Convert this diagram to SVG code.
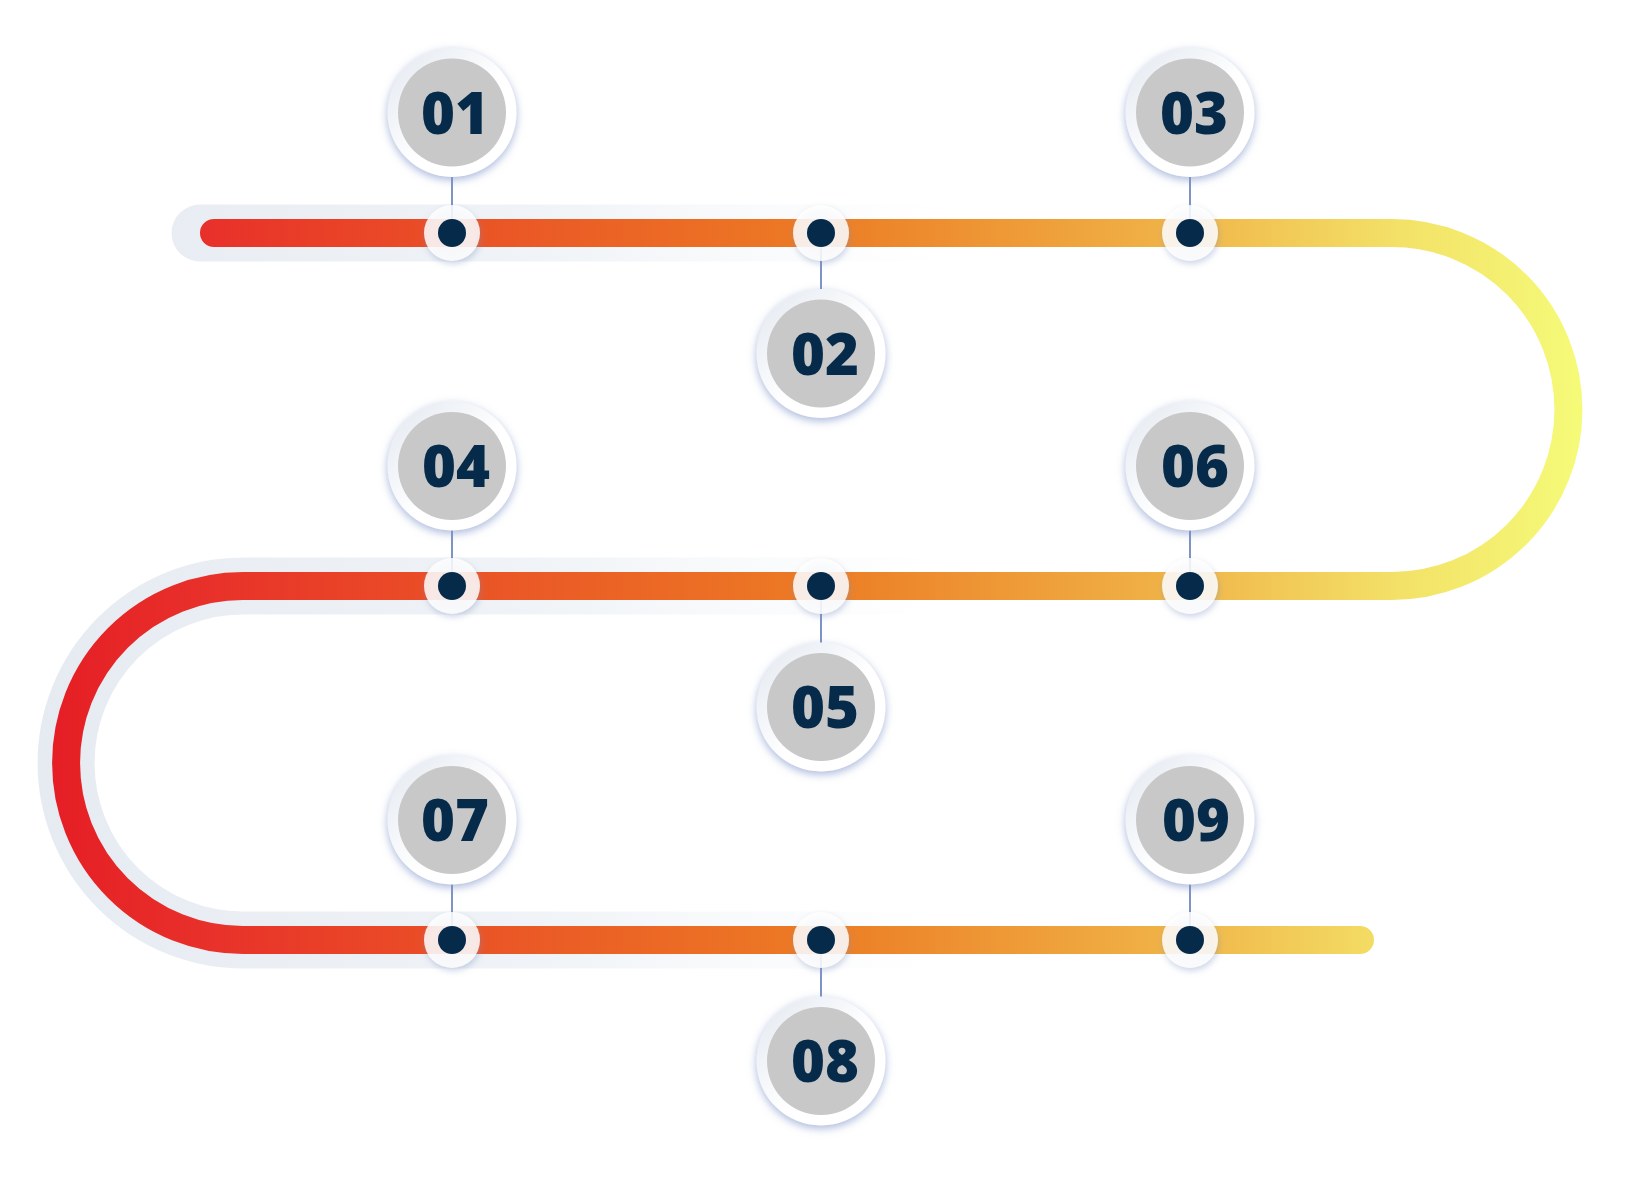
<svg xmlns="http://www.w3.org/2000/svg" width="1629" height="1188" viewBox="0 0 1629 1188">
<defs>
<linearGradient id="trackGrad" gradientUnits="userSpaceOnUse" x1="50" y1="0" x2="1583" y2="0">
<stop offset="0" stop-color="#e51e25"/>
<stop offset="0.1" stop-color="#e8302a"/>
<stop offset="0.26" stop-color="#ea5026"/>
<stop offset="0.5" stop-color="#ec7b24"/>
<stop offset="0.74" stop-color="#f0b548"/>
<stop offset="0.88" stop-color="#f3e168"/>
<stop offset="1" stop-color="#f5fb78"/>
</linearGradient>
<linearGradient id="shadowGrad" gradientUnits="userSpaceOnUse" x1="40" y1="0" x2="950" y2="0">
<stop offset="0" stop-color="#e6ebf2" stop-opacity="1"/>
<stop offset="0.55" stop-color="#eef2f6" stop-opacity="0.9"/>
<stop offset="1" stop-color="#f4f6f9" stop-opacity="0"/>
</linearGradient>
<linearGradient id="ringGrad" x1="0" y1="0" x2="1" y2="1">
<stop offset="0" stop-color="#e2e8f0"/>
<stop offset="0.55" stop-color="#ffffff"/>
<stop offset="1" stop-color="#ffffff"/>
</linearGradient>
<filter id="nodeShadow" x="-30%" y="-30%" width="160%" height="170%">
<feDropShadow dx="0" dy="3" stdDeviation="4" flood-color="#7d93c9" flood-opacity="0.65"/>
</filter>
<filter id="dotShadow" x="-40%" y="-40%" width="180%" height="190%">
<feDropShadow dx="1" dy="3" stdDeviation="3" flood-color="#7d8fbf" flood-opacity="0.45"/>
</filter>
</defs>
<style>
.ring{fill:url(#ringGrad);filter:url(#nodeShadow)}
.core{fill:#c8c8c8}
.num{font-family:"Open Sans","DejaVu Sans",sans-serif;font-weight:800;font-size:58px;fill:#062b4a;text-anchor:middle}
.dotRing{fill:#ffffff;fill-opacity:0.84;filter:url(#dotShadow)}
.dotCore{fill:#062b4a}
.conn{stroke:#7f93c4;stroke-width:2;fill:none}
</style>
<g id="track">
<path d="M 200 233 L 1392 233 A 176.5 176.5 0 0 1 1392 586 L 243 586 A 177 177 0 0 0 243 940 L 1360 940" fill="none" stroke="url(#shadowGrad)" stroke-width="57" stroke-linecap="round"/>
<path d="M 214 233 L 1392 233 A 176.5 176.5 0 0 1 1392 586 L 243 586 A 177 177 0 0 0 243 940 L 1360 940" fill="none" stroke="url(#trackGrad)" stroke-width="28" stroke-linecap="round"/>
</g>
<g id="connectors">
<line class="conn" x1="452" y1="177" x2="452" y2="233"/>
<line class="conn" x1="821" y1="233" x2="821" y2="289"/>
<line class="conn" x1="1190" y1="177" x2="1190" y2="233"/>
<line class="conn" x1="452" y1="530" x2="452" y2="586"/>
<line class="conn" x1="821" y1="586" x2="821" y2="643"/>
<line class="conn" x1="1190" y1="530" x2="1190" y2="586"/>
<line class="conn" x1="452" y1="884" x2="452" y2="940"/>
<line class="conn" x1="821" y1="940" x2="821" y2="997"/>
<line class="conn" x1="1190" y1="884" x2="1190" y2="940"/>
</g>
<g id="dots">
<g id="dot1"><circle class="dotRing" cx="452" cy="233" r="28"/><circle class="dotCore" cx="452" cy="233" r="14"/></g>
<g id="dot2"><circle class="dotRing" cx="821" cy="233" r="28"/><circle class="dotCore" cx="821" cy="233" r="14"/></g>
<g id="dot3"><circle class="dotRing" cx="1190" cy="233" r="28"/><circle class="dotCore" cx="1190" cy="233" r="14"/></g>
<g id="dot4"><circle class="dotRing" cx="452" cy="586" r="28"/><circle class="dotCore" cx="452" cy="586" r="14"/></g>
<g id="dot5"><circle class="dotRing" cx="821" cy="586" r="28"/><circle class="dotCore" cx="821" cy="586" r="14"/></g>
<g id="dot6"><circle class="dotRing" cx="1190" cy="586" r="28"/><circle class="dotCore" cx="1190" cy="586" r="14"/></g>
<g id="dot7"><circle class="dotRing" cx="452" cy="940" r="28"/><circle class="dotCore" cx="452" cy="940" r="14"/></g>
<g id="dot8"><circle class="dotRing" cx="821" cy="940" r="28"/><circle class="dotCore" cx="821" cy="940" r="14"/></g>
<g id="dot9"><circle class="dotRing" cx="1190" cy="940" r="28"/><circle class="dotCore" cx="1190" cy="940" r="14"/></g>
</g>
<g id="node01"><circle class="ring" cx="452" cy="112.5" r="64.5"/><circle class="core" cx="452" cy="112.5" r="54"/><text class="num" x="455" y="133.5">01</text></g>
<g id="node02"><circle class="ring" cx="821" cy="353.5" r="64.5"/><circle class="core" cx="821" cy="353.5" r="54"/><text class="num" x="825" y="374.5">02</text></g>
<g id="node03"><circle class="ring" cx="1190" cy="112.5" r="64.5"/><circle class="core" cx="1190" cy="112.5" r="54"/><text class="num" x="1194" y="133.5">03</text></g>
<g id="node04"><circle class="ring" cx="452" cy="466" r="64.5"/><circle class="core" cx="452" cy="466" r="54"/><text class="num" x="456" y="487">04</text></g>
<g id="node05"><circle class="ring" cx="821" cy="707" r="64.5"/><circle class="core" cx="821" cy="707" r="54"/><text class="num" x="825" y="728">05</text></g>
<g id="node06"><circle class="ring" cx="1190" cy="466" r="64.5"/><circle class="core" cx="1190" cy="466" r="54"/><text class="num" x="1195" y="487">06</text></g>
<g id="node07"><circle class="ring" cx="452" cy="820" r="64.5"/><circle class="core" cx="452" cy="820" r="54"/><text class="num" x="455" y="841">07</text></g>
<g id="node08"><circle class="ring" cx="821" cy="1061" r="64.5"/><circle class="core" cx="821" cy="1061" r="54"/><text class="num" x="825" y="1082">08</text></g>
<g id="node09"><circle class="ring" cx="1190" cy="820" r="64.5"/><circle class="core" cx="1190" cy="820" r="54"/><text class="num" x="1196" y="841">09</text></g>
</svg>
